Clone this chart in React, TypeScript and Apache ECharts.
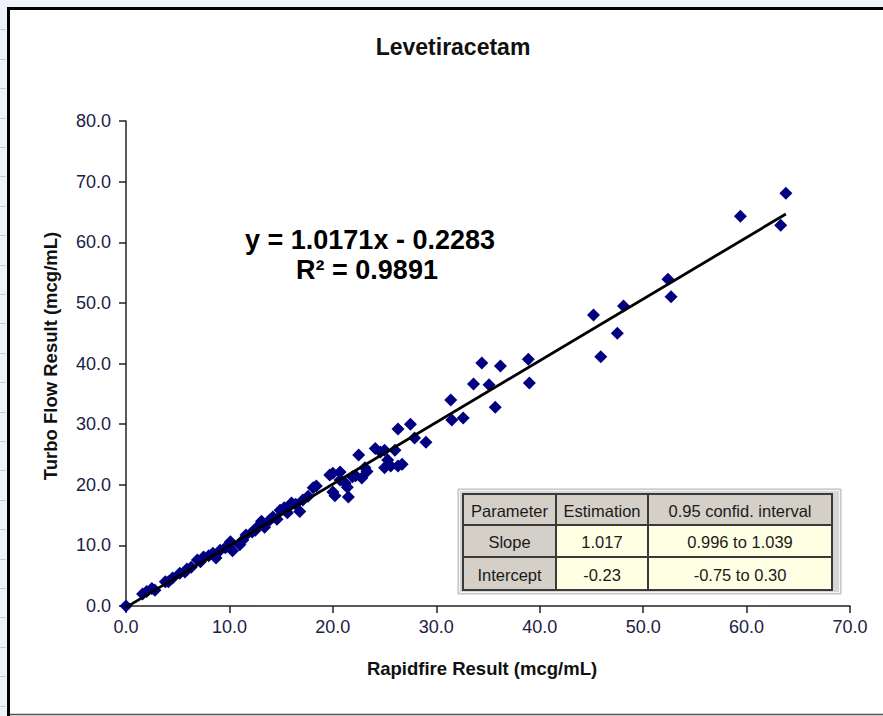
import React, { useEffect, useRef } from "react";
import * as echarts from "echarts";

const chartTitle = "Levetiracetam";
const xAxisTitle = "Rapidfire Result (mcg/mL)";
const yAxisTitle = "Turbo Flow Result (mcg/mL)";

const xValues = [
  0, 1.6, 2.0, 2.5, 2.8, 3.8, 4.1, 4.5, 5.2, 5.7, 5.9, 6.3, 6.9, 7.2, 7.5, 8.0, 8.4, 8.7, 9.1, 9.6,
  9.9, 10.1, 10.3, 11.0, 11.3, 11.6, 12.2, 12.5, 12.8, 13.1, 13.4, 13.9, 14.2, 14.6, 14.9, 15.3, 15.6,
  16.0, 16.4, 16.8, 17.1, 17.6, 18.1, 18.4,
  19.7, 20.0, 20.0, 20.2, 20.7, 20.7, 21.2, 21.4, 21.5, 21.9, 22.2, 22.5, 22.8, 23.1, 23.3, 24.1, 24.6,
  25.0, 25.0, 25.3, 25.6, 26.0, 26.3, 26.3, 26.7, 27.5, 27.9, 29.0,
  31.4, 31.5, 32.6, 33.6, 34.4, 35.1, 35.7, 36.2, 38.9, 39.0, 45.2, 45.9, 47.5, 48.1, 52.4, 52.7,
  59.4, 63.3, 63.8,
];
const yValues = [
  0, 2.0, 2.4, 2.9, 2.6, 4.0, 4.0, 4.6, 5.4, 5.6, 6.1, 6.4, 7.6, 7.3, 8.1, 8.3, 8.7, 7.9, 9.2, 9.6,
  9.8, 10.6, 9.1, 10.1, 10.9, 11.7, 12.2, 12.5, 13.2, 14.0, 13.0, 14.2, 14.7, 14.3, 15.8, 16.2, 15.4,
  17.0, 16.8, 15.6, 17.5, 18.1, 19.5, 19.8,
  21.6, 21.9, 18.8, 18.2, 22.1, 20.8, 20.3, 19.6, 18.0, 21.3, 21.5, 24.9, 21.1, 22.8, 22.2, 26.0, 25.4,
  25.7, 22.8, 24.1, 23.1, 25.7, 23.1, 29.2, 23.4, 30.0, 27.7, 27.0,
  34.0, 30.7, 31.0, 36.6, 40.1, 36.5, 32.8, 39.6, 40.7, 36.8, 48.0, 41.1, 45.0, 49.5, 53.9, 51.0,
  64.3, 62.8, 68.1,
];

const fitSlope = 1.0171;
const fitIntercept = -0.2283;
const fitR2 = 0.9891;

const tableHeader = ["Parameter", "Estimation", "0.95 confid. interval"];
const tableRows = [
  ["Slope", "1.017", "0.996 to 1.039"],
  ["Intercept", "-0.23", "-0.75 to 0.30"],
];

const FONT = "'Liberation Sans', Arial, sans-serif";

export default function App() {
  const ref = useRef<HTMLDivElement>(null);

  useEffect(() => {
    if (!ref.current) return;
    const chart = echarts.init(ref.current, undefined, { renderer: "svg" });

    const points = xValues.map((x, i) => [x, yValues[i]]);
    const xMin = Math.min(...xValues);
    const xMax = Math.max(...xValues);
    const fitLine = [
      [xMin, fitSlope * xMin + fitIntercept],
      [xMax, fitSlope * xMax + fitIntercept],
    ];

    const colX = [463, 556, 648, 832];
    const rowY = [494, 525, 557, 590];
    const tableEls: any[] = [];
    tableEls.push({
      type: "rect",
      shape: { x: 458, y: 489, width: 383, height: 105 },
      style: { fill: "#d6d6d6", stroke: "#bdbdbd", lineWidth: 1 },
      z: 100,
    });
    tableEls.push({
      type: "rect",
      shape: { x: 459.5, y: 490.5, width: 380, height: 102 },
      style: { fill: "none", stroke: "#f4f4f4", lineWidth: 1 },
      z: 100,
    });
    const allRows = [tableHeader, ...tableRows];
    allRows.forEach((row, r) => {
      row.forEach((txt, c) => {
        const isGray = r === 0 || c === 0;
        tableEls.push({
          type: "rect",
          shape: {
            x: colX[c],
            y: rowY[r],
            width: colX[c + 1] - colX[c],
            height: rowY[r + 1] - rowY[r],
          },
          style: { fill: isGray ? "#d4d0c8" : "#ffffe3", stroke: "#3a3a3a", lineWidth: 2 },
          z: 101,
        });
        tableEls.push({
          type: "text",
          x: (colX[c] + colX[c + 1]) / 2,
          y: (rowY[r] + rowY[r + 1]) / 2 + 1,
          style: {
            text: txt,
            fill: "#1a1a1a",
            font: `16.5px ${FONT}`,
            align: "center",
            verticalAlign: "middle",
          },
          z: 102,
        });
      });
    });

    const rulerEls: any[] = [];
    for (let k = 1; k * 29.4 < 716; k++) {
      const yy = Math.round(k * 29.4) + 0.5;
      rulerEls.push({
        type: "line",
        shape: { x1: 0, y1: yy, x2: 6, y2: yy },
        style: { stroke: "#c5ccd8", lineWidth: 1 },
        z: 1,
      });
    }

    chart.setOption({
      animation: false,
      backgroundColor: "transparent",
      grid: { left: 126, top: 121, right: 33, bottom: 110 },
      xAxis: {
        type: "value",
        min: 0,
        max: 70,
        interval: 10,
        splitLine: { show: false },
        axisLine: { show: true, onZero: false, lineStyle: { color: "#222", width: 1.5 } },
        axisTick: { show: true, length: 7, lineStyle: { color: "#222", width: 1.5 } },
        axisLabel: {
          margin: 12,
          fontSize: 18,
          fontFamily: FONT,
          color: "#1a2045",
          formatter: (v: number) => v.toFixed(1),
        },
      },
      yAxis: {
        type: "value",
        min: 0,
        max: 80,
        interval: 10,
        splitLine: { show: false },
        axisLine: { show: true, onZero: false, lineStyle: { color: "#222", width: 1.5 } },
        axisTick: { show: true, length: 7, lineStyle: { color: "#222", width: 1.5 } },
        axisLabel: {
          margin: 15,
          fontSize: 18,
          fontFamily: FONT,
          color: "#1a2045",
          formatter: (v: number) => v.toFixed(1),
        },
      },
      series: [
        {
          type: "scatter",
          data: points,
          symbol: "diamond",
          symbolSize: 13,
          itemStyle: { color: "#000080", opacity: 1 },
          z: 2,
        },
        {
          type: "line",
          data: fitLine,
          symbol: "none",
          clip: false,
          lineStyle: { color: "#000", width: 2.8 },
          z: 3,
        },
      ],
      graphic: [
        {
          type: "rect",
          shape: { x: 8, y: 8, width: 900, height: 707 },
          style: { fill: "#ffffff" },
          z: -10,
          silent: true,
        },
        {
          type: "line",
          shape: { x1: 8.5, y1: 7, x2: 8.5, y2: 716 },
          style: { stroke: "#000", lineWidth: 3 },
          z: 5,
        },
        {
          type: "line",
          shape: { x1: 7, y1: 8.5, x2: 883, y2: 8.5 },
          style: { stroke: "#000", lineWidth: 3 },
          z: 5,
        },
        {
          type: "line",
          shape: { x1: 10, y1: 714.5, x2: 883, y2: 714.5 },
          style: { stroke: "#555", lineWidth: 1.5 },
          z: 5,
        },
        ...rulerEls,
        {
          type: "text",
          x: 453,
          y: 47,
          style: {
            text: chartTitle,
            font: `bold 23px ${FONT}`,
            fill: "#111",
            align: "center",
            verticalAlign: "middle",
          },
          z: 10,
        },
        {
          type: "text",
          x: 482,
          y: 668,
          style: {
            text: xAxisTitle,
            font: `bold 18.5px ${FONT}`,
            fill: "#111",
            align: "center",
            verticalAlign: "middle",
          },
          z: 10,
        },
        {
          type: "text",
          x: 50,
          y: 356,
          rotation: Math.PI / 2,
          style: {
            text: yAxisTitle,
            font: `bold 18.5px ${FONT}`,
            fill: "#111",
            align: "center",
            verticalAlign: "middle",
          },
          z: 10,
        },
        {
          type: "text",
          x: 370,
          y: 240,
          style: {
            text: `y = ${fitSlope.toFixed(4)}x - ${Math.abs(fitIntercept).toFixed(4)}`,
            font: `bold 27px ${FONT}`,
            fill: "#000",
            align: "center",
            verticalAlign: "middle",
          },
          z: 10,
        },
        {
          type: "text",
          x: 367,
          y: 270,
          style: {
            text: `R\u00B2 = ${fitR2.toFixed(4)}`,
            font: `bold 27px ${FONT}`,
            fill: "#000",
            align: "center",
            verticalAlign: "middle",
          },
          z: 10,
        },
        ...tableEls,
      ],
    });

    return () => chart.dispose();
  }, []);

  return (
    <div
      style={{
        position: "fixed",
        left: 0,
        top: 0,
        width: 883,
        height: 716,
        background: "#eef3fb",
      }}
    >
      <div ref={ref} style={{ width: 883, height: 716 }} />
    </div>
  );
}
